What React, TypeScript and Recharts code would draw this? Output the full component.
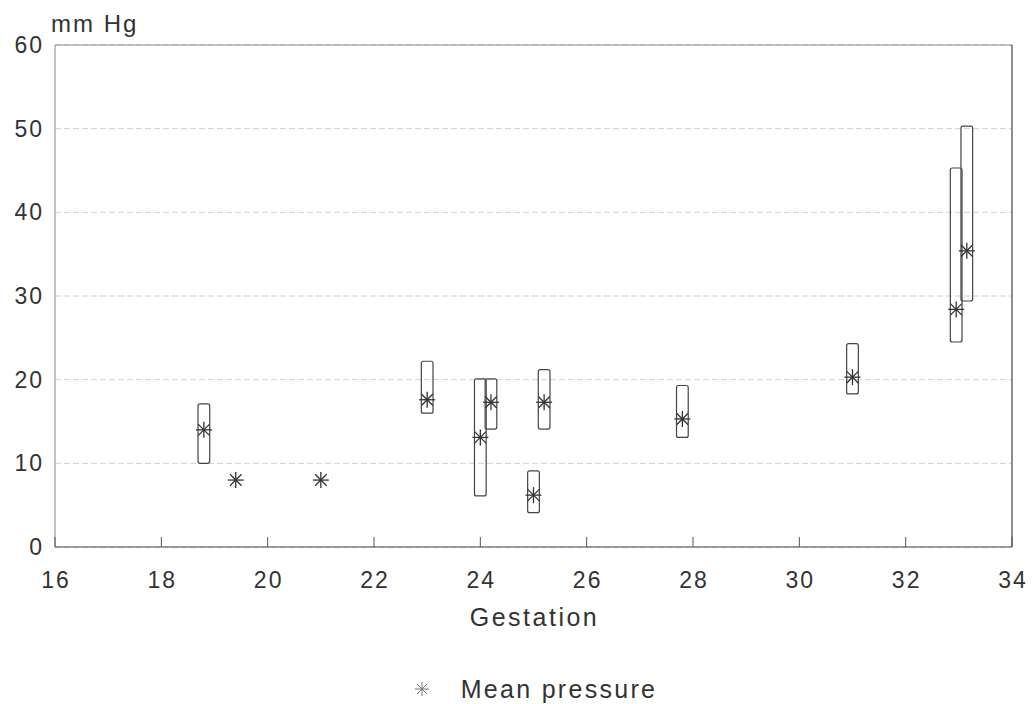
import {
  ScatterChart, Scatter, XAxis, YAxis, CartesianGrid,
  ReferenceArea, ReferenceLine, Legend
} from "recharts";

// gestation (weeks) / mean pressure / range (mm Hg)
const gestation = [18.8, 19.4, 21.0, 23.0, 24.0, 24.2, 25.0, 25.2, 27.8, 31.0, 32.95, 33.15];
const meanPressure = [14.0, 8.0, 8.0, 17.6, 13.1, 17.3, 6.2, 17.3, 15.3, 20.3, 28.4, 35.4];
const rangeLow = [10.0, null, null, 16.0, 6.1, 14.1, 4.1, 14.1, 13.1, 18.3, 24.5, 29.4];
const rangeHigh = [17.1, null, null, 22.2, 20.1, 20.1, 9.1, 21.2, 19.3, 24.3, 45.3, 50.3];

const xTicks = [16, 18, 20, 22, 24, 26, 28, 30, 32, 34];
const yTicks = [0, 10, 20, 30, 40, 50, 60];

const BOX_HALF = 0.11; // half width of range box, in weeks
const FONT = "'Liberation Sans', Arial, sans-serif";
const INK = "#333";

const points = gestation.map((g, i) => ({ x: g, y: meanPressure[i] }));
const boxes = gestation
  .map((g, i) => ({ x: g, lo: rangeLow[i], hi: rangeHigh[i] }))
  .filter((b) => b.lo != null && b.hi != null);

function Asterisk({ cx, cy, r = 8, color = INK, w = 1.3 }: any) {
  const d = r * 0.72;
  return (
    <g stroke={color} strokeWidth={w}>
      <line x1={cx - r} y1={cy} x2={cx + r} y2={cy} />
      <line x1={cx} y1={cy - r} x2={cx} y2={cy + r} />
      <line x1={cx - d} y1={cy - d} x2={cx + d} y2={cy + d} />
      <line x1={cx - d} y1={cy + d} x2={cx + d} y2={cy - d} />
    </g>
  );
}

function XTick({ x, y, payload }: any) {
  return (
    <g>
      <line x1={x} y1={y} x2={x} y2={y - 10} stroke="#555" strokeWidth={1} />
      <text x={x + 1} y={y + 41} textAnchor="middle" fontFamily={FONT} fontSize={23}
        letterSpacing={2} fill={INK}>{payload.value}</text>
    </g>
  );
}

function YTick({ x, y, payload }: any) {
  return (
    <text x={x - 11} y={y + 8} textAnchor="end" fontFamily={FONT} fontSize={23}
      letterSpacing={2} fill={INK}>{payload.value}</text>
  );
}

function LegendContent() {
  return (
    <div style={{ height: 30, display: "flex", justifyContent: "center", alignItems: "center", paddingLeft: 58 }}>
      <svg width={18} height={18} style={{ marginRight: 30 }}>
        <Asterisk cx={9} cy={9} r={7} color="#777" w={1} />
      </svg>
      <span style={{ fontFamily: FONT, fontSize: 25, letterSpacing: 2.3, color: INK }}>
        Mean pressure
      </span>
    </div>
  );
}

export default function App() {
  return (
    <div style={{ position: "absolute", left: 0, top: 0, background: "#fff" }}>
      <ScatterChart width={1034} height={704} margin={{ top: 45, right: 22, left: 0, bottom: 0 }}>
        <CartesianGrid vertical={false} stroke="#d0d0d0" strokeDasharray="6 3" />
        <XAxis
          type="number"
          dataKey="x"
          domain={[16, 34]}
          ticks={xTicks}
          height={127}
          tickLine={false}
          tickSize={0}
          tickMargin={0}
          axisLine={{ stroke: "#444", strokeWidth: 1.2 }}
          tick={<XTick />}
          label={{
            content: ({ viewBox }: any) => (
              <text x={viewBox.x + viewBox.width / 2 + 1} y={viewBox.y + 79} textAnchor="middle"
                fontFamily={FONT} fontSize={25} letterSpacing={2.5} fill={INK}>Gestation</text>
            ),
          }}
        />
        <YAxis
          type="number"
          dataKey="y"
          domain={[0, 60]}
          ticks={yTicks}
          width={55}
          tickLine={false}
          tickSize={0}
          tickMargin={0}
          axisLine={{ stroke: "#888", strokeWidth: 1 }}
          tick={<YTick />}
          label={{
            content: ({ viewBox }: any) => (
              <text x={viewBox.x + viewBox.width - 4} y={viewBox.y - 13} textAnchor="start"
                fontFamily={FONT} fontSize={24} letterSpacing={2} fill={INK}>mm Hg</text>
            ),
          }}
        />
        <ReferenceLine y={60} stroke="#888" strokeWidth={1} />
        <ReferenceLine x={34} stroke="#444" strokeWidth={1.2} />
        {boxes.map((b, i) => (
          <ReferenceArea
            key={i}
            x1={b.x - BOX_HALF}
            x2={b.x + BOX_HALF}
            y1={b.lo as number}
            y2={b.hi as number}
            shape={(p: any) => (
              <rect x={p.x} y={p.y} width={p.width} height={p.height} rx={2}
                fill="none" stroke="#444" strokeWidth={1.2} />
            )}
          />
        ))}
        <Scatter
          name="Mean pressure"
          data={points}
          isAnimationActive={false}
          shape={(p: any) => <Asterisk cx={p.cx} cy={p.cy} />}
        />
        <Legend verticalAlign="bottom" content={<LegendContent />} />
      </ScatterChart>
    </div>
  );
}
